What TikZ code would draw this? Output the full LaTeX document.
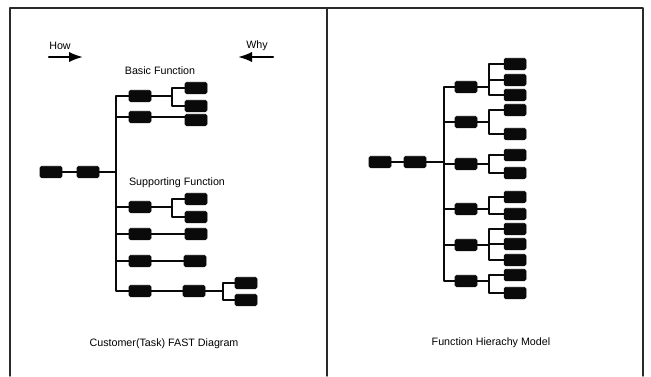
\documentclass[tikz,border=0pt]{standalone}
\usepackage{fontspec}
\setsansfont{Liberation Sans}
\usepackage{tikz}
\usetikzlibrary{arrows.meta}
\definecolor{frameink}{HTML}{2A2A2A}
\definecolor{boxink}{HTML}{0A0A0A}

\begin{document}
\begin{tikzpicture}[
  x=0.02cm,
  y=-0.02cm,
  font=\sffamily\fontsize{6.1}{7}\selectfont,
  line cap=round,
  line join=round,
  frame/.style={
    draw=frameink,
    line width=0.75pt
  },
  link/.style={
    draw=boxink,
    line width=0.6pt
  },
  dirarrow/.style={
    -{Latex[length=2.8mm,width=2.1mm]},
    line width=1.3pt
  },
  funcbox/.style={
    rectangle,
    rounded corners=0.8pt,
    draw=boxink,
    fill=boxink,
    line width=0.3pt,
    minimum width=0.44cm,
    minimum height=0.23cm,
    inner sep=0pt
  }
]

\useasboundingbox (0,0) rectangle (651,376);

% ------------------------------------------------------------
% Frame
% ------------------------------------------------------------

\draw[frame] (10,376) -- (10,8) -- (643,8) -- (643,376);
\draw[frame] (327,8) -- (327,376);

% ------------------------------------------------------------
% Left: Customer(Task) FAST diagram
% ------------------------------------------------------------

\node (how) at (60,46) {How};
\coordinate (howtail) at (49,57);
\coordinate (howhead) at (83,57);
\draw[dirarrow] (howtail) -- (howhead);

\node (why) at (257,46) {Why};
\coordinate (whytail) at (273,57);
\coordinate (whyhead) at (238,57);
\draw[dirarrow] (whytail) -- (whyhead);

\node (basic) at (160,71) {Basic Function};
\node (support) at (177,183) {Supporting Function};

\node[funcbox] (lroot) at (51,172) {};
\node[funcbox] (ltask) at (88,172) {};
\coordinate (ltrunk) at (116,172);
\draw[link] (lroot.east) -- (ltask.west);
\draw[link] (ltask.east) -- (ltrunk);

\foreach \j/\y in {1/96,2/117,3/207,4/234,5/261,6/291}{
  \node[funcbox] (lf\j) at (140,\y) {};
  \draw[link] (ltrunk) |- (lf\j.west);
}

% branching rows
\coordinate (lj1) at (172,96);
\draw[link] (lf1.east) -- (lj1);
\foreach \k/\y in {a/88,b/106}{
  \node[funcbox] (lf1\k) at (196,\y) {};
  \draw[link] (lj1) |- (lf1\k.west);
}

\coordinate (lj3) at (172,207);
\draw[link] (lf3.east) -- (lj3);
\foreach \k/\y in {a/199,b/217}{
  \node[funcbox] (lf3\k) at (196,\y) {};
  \draw[link] (lj3) |- (lf3\k.west);
}

% single rows
\node[funcbox] (lf2a) at (196,120) {};
\draw[link] (lf2.east) -- (lf2.east -| lf2a.west);
\node[funcbox] (lf4a) at (196,234) {};
\draw[link] (lf4.east) -- (lf4a.west);
\node[funcbox] (lf5a) at (195,261) {};
\draw[link] (lf5.east) -- (lf5a.west);

% last row goes one level deeper
\node[funcbox] (lf6a) at (194,291) {};
\draw[link] (lf6.east) -- (lf6a.west);
\coordinate (lj6) at (223,291);
\draw[link] (lf6a.east) -- (lj6);
\foreach \k/\y in {a/283,b/300}{
  \node[funcbox] (lf6a\k) at (246,\y) {};
  \draw[link] (lj6) |- (lf6a\k.west);
}

\node (fastcap) at (164,344) {Customer(Task) FAST Diagram};

% ------------------------------------------------------------
% Right: Function hierarchy model
% ------------------------------------------------------------

\node[funcbox] (rroot) at (380,162) {};
\node[funcbox] (rtask) at (415,162) {};
\coordinate (rtrunk) at (444,162);
\draw[link] (rroot.east) -- (rtask.west);
\draw[link] (rtask.east) -- (rtrunk);

\foreach \j/\y/\kids in {1/87/{64,80,95},2/122/{110,134},3/164/{155,173},
                         4/209/{197,214},5/245/{229,244,260},6/281/{275,293}}{
  \node[funcbox] (rf\j) at (466,\y) {};
  \draw[link] (rtrunk) |- (rf\j.west);
  \coordinate (rj\j) at (489,\y);
  \draw[link] (rf\j.east) -- (rj\j);
  \foreach \c [count=\n] in \kids{
    \node[funcbox] (rf\j-\n) at (515,\c) {};
    \draw[link] (rj\j) |- (rf\j-\n.west);
  }
}

\node (hiercap) at (491,343) {Function Hierachy Model};

\end{tikzpicture}
\end{document}
